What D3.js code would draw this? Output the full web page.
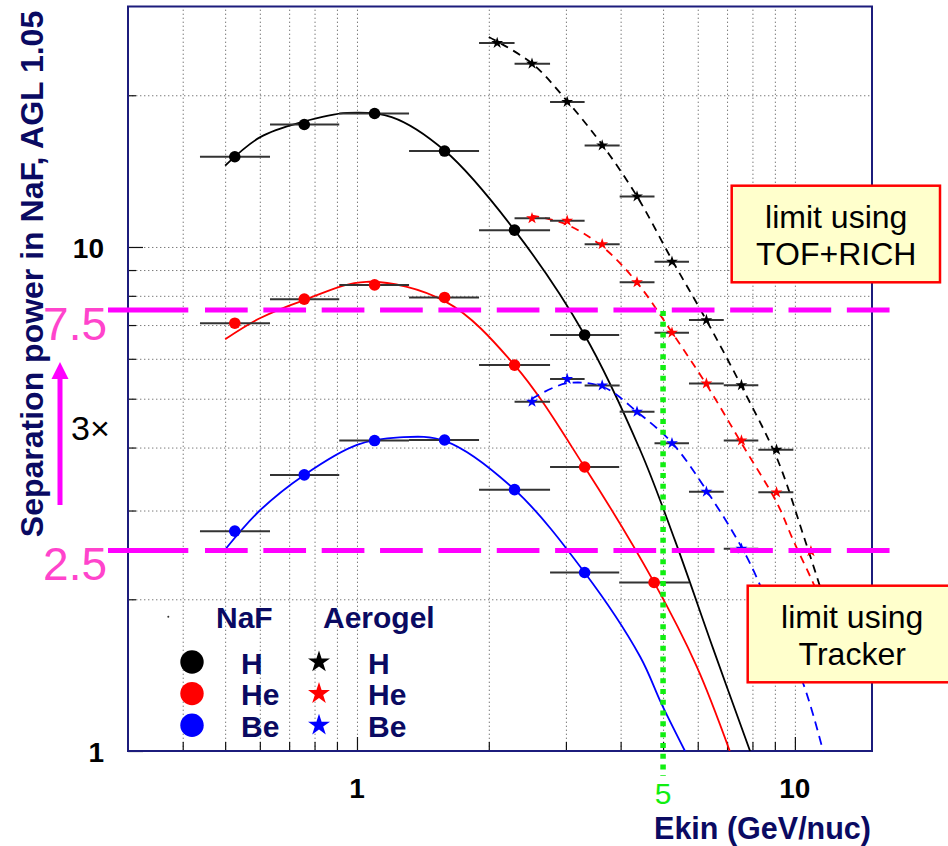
<!DOCTYPE html>
<html>
<head>
<meta charset="utf-8">
<script src="https://cdn.jsdelivr.net/npm/d3@7"></script>
<style>
  body { margin: 0; background: #ffffff; }
  svg { display: block; font-family: "Liberation Sans", Arial, Helvetica, sans-serif; }
</style>
</head>
<body>
<svg id="chart" width="948" height="846"></svg>
<script>
// ---- Energy bins (GeV/nuc) ----
const nafEdges    = [0.438, 0.633, 0.911, 1.315, 1.90, 2.76, 3.97, 5.73];
const nafCenters  = [0.526, 0.758, 1.097, 1.585, 2.29, 3.31, 4.77];
const aeroEdges   = [1.90, 2.29, 2.76, 3.31, 3.98, 4.78, 5.73, 6.88, 8.25, 9.92, 11.9];
const aeroCenters = [2.09, 2.51, 3.02, 3.63, 4.36, 5.24, 6.28, 7.55, 9.08, 10.88];

// ---- Separation power per bin (null = no measurement) ----
const nafH   = [15.1, 17.5, 18.4, 15.5, 10.8, 6.69];
const nafHe  = [7.06, 7.88, 8.41, 7.94, 5.83, 3.66, 2.16];
const nafBe  = [2.73, 3.53, 4.13, 4.14, 3.30, 2.26];
const aeroH  = [25.4, 23.1, 19.4, 15.9, 12.6, 9.35, 7.16, 5.32, 3.96];
const aeroHe = [null, 11.4, 11.27, 10.13, 8.51, 6.76, 5.36, 4.13, 3.26, 2.49];
const aeroBe = [null, 4.93, 5.47, 5.31, 4.71, 4.08, 3.27, 2.52];

// ---- Fitted curves, sampled along their length ----
const fitNafHX   = [0.5, 0.6, 0.75, 0.95, 1.2, 1.59, 2.29, 3.31, 4.43, 5.32, 6.5, 7.9];
const fitNafHY   = [14.5, 16.5, 17.7, 18.45, 18.1, 15.5, 10.8, 6.69, 3.96, 2.62, 1.6, 1.0];
const fitNafHeX  = [0.5, 0.6, 0.75, 1.05, 1.59, 2.29, 3.31, 4.77, 5.97, 7.1];
const fitNafHeY  = [6.56, 7.22, 7.82, 8.53, 7.8, 5.83, 3.66, 2.16, 1.47, 1.0];
const fitNafBeX  = [0.5, 0.6, 0.758, 1.0, 1.25, 1.59, 2.29, 3.31, 4.43, 4.96, 5.61];
const fitNafBeY  = [2.51, 3.0, 3.53, 4.05, 4.19, 4.12, 3.30, 2.26, 1.54, 1.24, 1.0];
const fitAeroHX  = [2.0, 2.5, 3.0, 3.64, 4.36, 5.25, 6.31, 7.59, 9.11, 10.5, 12.0];
const fitAeroHY  = [26.1, 23.2, 19.6, 15.9, 12.6, 9.4, 7.1, 5.25, 3.8, 2.65, 1.85];
const fitAeroHeX = [2.5, 3.0, 3.64, 4.36, 5.25, 6.31, 7.59, 9.11, 9.91, 11.02, 12.0];
const fitAeroHeY = [11.55, 11.1, 10.0, 8.5, 6.75, 5.3, 4.05, 3.1, 2.62, 2.15, 1.8];
const fitAeroBeX = [2.5, 3.0, 3.64, 4.36, 5.25, 6.31, 7.76, 9.0, 10.45, 11.6];
const fitAeroBeY = [4.99, 5.36, 5.28, 4.71, 4.08, 3.27, 2.43, 1.82, 1.36, 1.0];

// ---- Axis ticks ----
const xMinorTicks = [0.4, 0.5, 0.6, 0.7, 0.8, 0.9, 2, 3, 4, 5, 6, 7, 8, 9];
const xMajorTicks = [1, 10];
const xTickLabels = ["1", "10"];
const yMinorTicks = [2, 3, 4, 5, 6, 7, 8, 9, 20];
const yMajorTicks = [1, 10];
const yTickLabels = ["1", "10"];

// ---- Reference levels ----
const limitTofRich = 7.5;
const limitTracker = 2.5;
const energyCut = 5;

const navy = "#0a0a62";
const svg = d3.select("#chart");

const x = d3.scaleLog().domain([0.3, 15]).range([128, 872]);
const y = d3.scaleLog().domain([1, 30]).range([751, 6.5]);
const [x0, x1] = x.range();
const [y0, y1] = y.range();

// ---- Grid (dotted) ----
const gridX = svg.append("g").attr("transform", `translate(0,${y0})`)
  .call(d3.axisBottom(x).tickValues(xMinorTicks.concat(xMajorTicks)).tickSize(-(y0 - y1)).tickFormat(""));
const gridY = svg.append("g").attr("transform", `translate(${x0},0)`)
  .call(d3.axisLeft(y).tickValues(yMinorTicks.concat([10])).tickSize(-(x1 - x0)).tickFormat(""));
[gridX, gridY].forEach(g => {
  g.select(".domain").remove();
  g.selectAll("line").attr("stroke", "#7a7a7a").attr("stroke-width", 1).attr("stroke-dasharray", "1.4,2.6");
});

// ---- Tick marks on the inside of the frame ----
function ticks(axisGen, vals, size, tr) {
  const g = svg.append("g").attr("transform", tr)
    .call(axisGen.tickValues(vals).tickSize(-size).tickFormat(""));
  g.select(".domain").remove();
  g.selectAll("line").attr("stroke", "#111").attr("stroke-width", 1.2);
}
ticks(d3.axisBottom(x), xMinorTicks, 9, `translate(0,${y0})`);
ticks(d3.axisBottom(x), xMajorTicks, 14, `translate(0,${y0})`);
ticks(d3.axisLeft(y), yMinorTicks, 8, `translate(${x0},0)`);
ticks(d3.axisLeft(y), yMajorTicks, 15, `translate(${x0},0)`);

// ---- Frame ----
svg.append("rect").attr("x", x0).attr("y", y1).attr("width", x1 - x0).attr("height", y0 - y1)
  .attr("fill", "none").attr("stroke", "#1c1c7c").attr("stroke-width", 2);

// ---- Tick labels ----
svg.append("g").selectAll("text").data(xMajorTicks).join("text")
  .attr("x", d => x(d)).attr("y", 798).attr("text-anchor", "middle")
  .attr("font-size", 28).attr("font-weight", "bold").attr("fill", "#000")
  .text((d, i) => xTickLabels[i]);
svg.append("g").selectAll("text").data(yMajorTicks).join("text")
  .attr("x", 104).attr("y", d => y(d) + 11).attr("text-anchor", "end")
  .attr("font-size", 28).attr("font-weight", "bold").attr("fill", "#000")
  .text((d, i) => yTickLabels[i]);

// ---- Axis titles ----
svg.append("text").attr("transform", "translate(43,274) rotate(-90)")
  .attr("text-anchor", "middle").attr("font-size", 32).attr("font-weight", "bold").attr("fill", navy)
  .text("Separation power in NaF, AGL 1.05");
svg.append("text").attr("x", 871).attr("y", 839).attr("text-anchor", "end")
  .attr("font-size", 30.5).attr("font-weight", "bold").attr("fill", navy)
  .text("Ekin (GeV/nuc)");

// ---- Plot contents, clipped to frame ----
svg.append("clipPath").attr("id", "frame").append("rect")
  .attr("x", x0).attr("y", y1).attr("width", x1 - x0).attr("height", y0 - y1);
const plot = svg.append("g").attr("clip-path", "url(#frame)");

const line = d3.line().x(d => x(d[0])).y(d => y(d[1])).curve(d3.curveCatmullRom.alpha(0.5));
const fits = [
  [fitNafHX, fitNafHY, "#000", null],
  [fitNafHeX, fitNafHeY, "#ff0000", null],
  [fitNafBeX, fitNafBeY, "#0000ff", null],
  [fitAeroHX, fitAeroHY, "#000", "8,6"],
  [fitAeroHeX, fitAeroHeY, "#ff0000", "8,6"],
  [fitAeroBeX, fitAeroBeY, "#0000ff", "9,6"]
];
fits.forEach(([xs, ys, col, dash]) => {
  plot.append("path").datum(xs.map((v, i) => [v, ys[i]]))
    .attr("d", line).attr("fill", "none").attr("stroke", col)
    .attr("stroke-width", 1.8).attr("stroke-dasharray", dash);
});

// error bars and markers
function series(vals, centers, edges, col, shape) {
  const pts = vals.map((v, i) => ({ v, c: centers[i], lo: edges[i], hi: edges[i + 1] })).filter(d => d.v != null);
  plot.append("g").selectAll("line").data(pts).join("line")
    .attr("x1", d => x(d.lo)).attr("x2", d => x(d.hi))
    .attr("y1", d => y(d.v)).attr("y2", d => y(d.v))
    .attr("stroke", "#333").attr("stroke-width", 2);
  if (shape === "circle") {
    plot.append("g").selectAll("circle").data(pts).join("circle")
      .attr("cx", d => x(d.c)).attr("cy", d => y(d.v)).attr("r", 5.8).attr("fill", col);
  } else {
    plot.append("g").selectAll("path").data(pts).join("path")
      .attr("transform", d => `translate(${x(d.c)},${y(d.v)})`)
      .attr("d", d3.symbol(d3.symbolStar, 44)).attr("fill", col);
  }
}
series(nafH, nafCenters, nafEdges, "#000", "circle");
series(nafHe, nafCenters, nafEdges, "#ff0000", "circle");
series(nafBe, nafCenters, nafEdges, "#0000ff", "circle");
series(aeroH, aeroCenters, aeroEdges, "#000", "star");
series(aeroHe, aeroCenters, aeroEdges, "#ff0000", "star");
series(aeroBe, aeroCenters, aeroEdges, "#0000ff", "star");

// ---- Legend ----
const legend = svg.append("g");
legend.append("circle").attr("cx", 168.3).attr("cy", 616.7).attr("r", 1).attr("fill", "#333");
legend.append("text").attr("x", 216).attr("y", 628).attr("font-size", 30).attr("font-weight", "bold")
  .attr("fill", navy).text("NaF");
legend.append("text").attr("x", 323).attr("y", 628).attr("font-size", 30).attr("font-weight", "bold")
  .attr("fill", navy).text("Aerogel");
const legendRows = ["H", "He", "Be"];
const legendColors = ["#000", "#ff0000", "#0000ff"];
legendRows.forEach((name, i) => {
  const cy = 662 + i * 31.6;
  legend.append("circle").attr("cx", 192).attr("cy", cy).attr("r", 11.7).attr("fill", legendColors[i]);
  legend.append("text").attr("x", 241).attr("y", cy + 11.5).attr("font-size", 30).attr("font-weight", "bold")
    .attr("fill", navy).text(name);
  legend.append("path").attr("transform", `translate(319,${cy})`)
    .attr("d", d3.symbol(d3.symbolStar, 150)).attr("fill", legendColors[i]);
  legend.append("text").attr("x", 368).attr("y", cy + 11.5).attr("font-size", 30).attr("font-weight", "bold")
    .attr("fill", navy).text(name);
});

// ---- Limit lines ----
const dashPattern = [80.3, 16.7].concat(d3.range(13).flatMap(() => [42.7, 15.65])).join(",");
[limitTofRich, limitTracker].forEach(v => {
  svg.append("line").attr("x1", 108).attr("x2", 892).attr("y1", y(v)).attr("y2", y(v))
    .attr("stroke", "#ff00ff").attr("stroke-width", 5).attr("stroke-dasharray", dashPattern);
  svg.append("text").attr("x", 107).attr("y", y(v) + 30).attr("text-anchor", "end")
    .attr("font-size", 46).attr("fill", "#ff44cc").text(String(v));
});

// energy cut marker
svg.append("line").attr("x1", x(energyCut)).attr("x2", x(energyCut))
  .attr("y1", y(limitTofRich) + 1).attr("y2", 776)
  .attr("stroke", "#11ee11").attr("stroke-width", 5.5).attr("stroke-dasharray", "5,5.8");
svg.append("text").attr("x", x(energyCut)).attr("y", 804).attr("text-anchor", "middle")
  .attr("font-size", 30).attr("fill", "#11ee11").text(String(energyCut));

// factor-of-three arrow
svg.append("line").attr("x1", 60).attr("x2", 60).attr("y1", 505).attr("y2", 376)
  .attr("stroke", "#ff00ff").attr("stroke-width", 5);
svg.append("path").attr("d", "M60,362 L51.5,379 L68.5,379 Z").attr("fill", "#ff00ff");
svg.append("text").attr("x", 71).attr("y", 440).attr("font-size", 34).attr("fill", "#000").text("3\u00d7");

// ---- Annotation boxes ----
function note(bx, by, lines) {
  const g = svg.append("g");
  g.append("rect").attr("x", bx).attr("y", by).attr("width", 208.3).attr("height", 96.6)
    .attr("fill", "#ffffcc").attr("stroke", "#ff0000").attr("stroke-width", 2.5);
  lines.forEach((t, i) => {
    g.append("text").attr("x", bx + 104.5).attr("y", by + 42.6 + i * 36.7).attr("text-anchor", "middle")
      .attr("font-size", 32).attr("fill", "#000").text(t);
  });
}
note(731.7, 185.7, ["limit using", "TOF+RICH"]);
note(747.7, 585.7, ["limit using", "Tracker"]);
</script>
</body>
</html>
